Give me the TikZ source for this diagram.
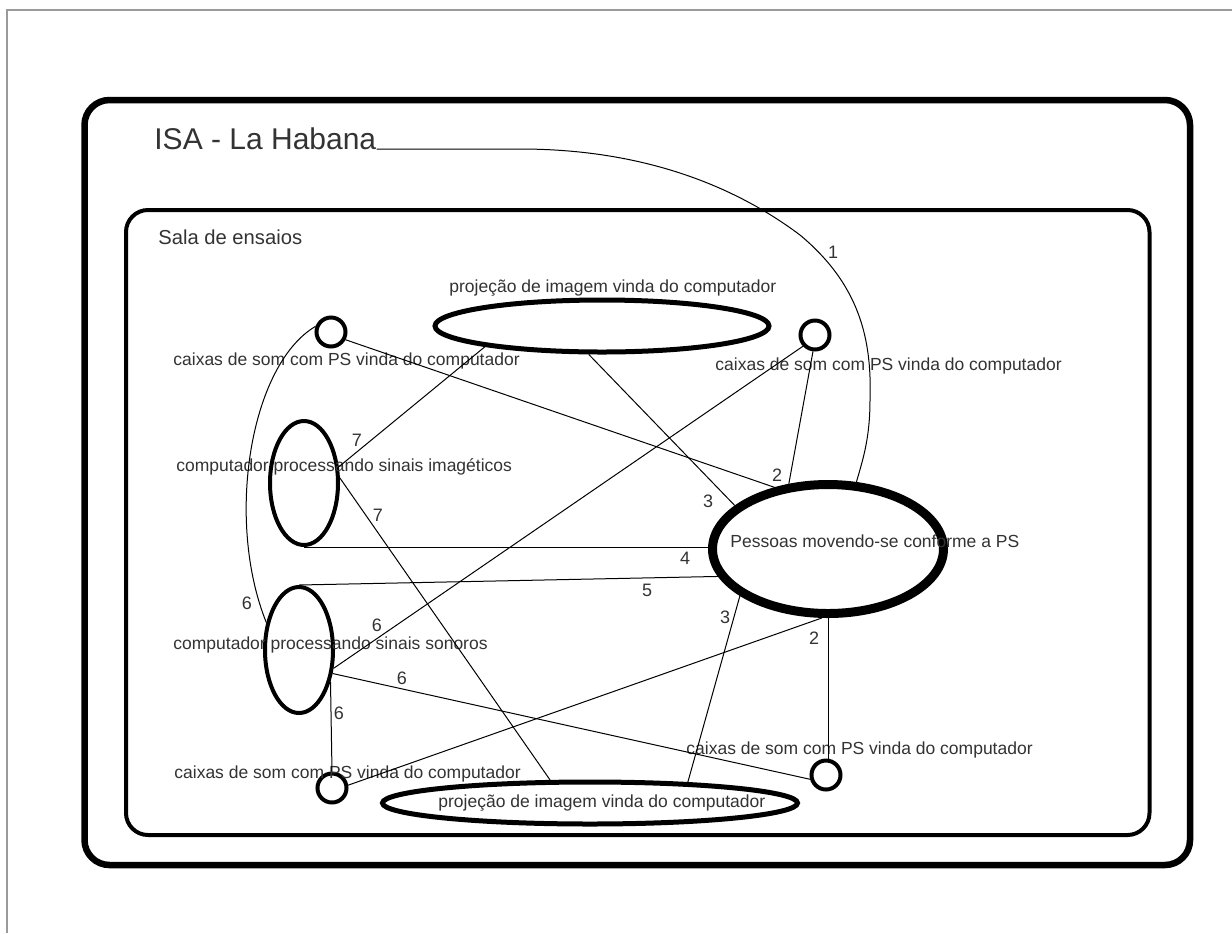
\documentclass[tikz,border=0pt]{standalone}
\usepackage{fontspec}
\setmainfont{Liberation Sans}
\usetikzlibrary{shapes.geometric}
\definecolor{ink}{HTML}{333333}
\definecolor{edgegray}{HTML}{9A9A9A}

\begin{document}
\begin{tikzpicture}[x=0.5pt,y=-0.5pt,
  room/.style={draw, rectangle, inner sep=0},
  speaker/.style={draw, circle, line width=2pt, minimum size=14.5pt, inner sep=0},
  pc/.style={draw, ellipse, line width=2pt, minimum width=34pt, minimum height=62pt, inner sep=0},
  proj/.style={draw, ellipse, line width=2.5pt, inner sep=0},
  people/.style={draw, ellipse, line width=4.5pt, minimum width=115.5pt, minimum height=64.5pt, inner sep=0},
  lbl/.style={text=ink, font=\fontsize{8.75}{10}\selectfont, inner sep=0, anchor=base west},
  num/.style={text=ink, font=\fontsize{9}{10}\selectfont, inner sep=0},
  link/.style={line width=0.5pt}]

\useasboundingbox (0,0) rectangle (1232,933);
\fill[white] (0,0) rectangle (1232,933);
% sunken frame lines
\draw[edgegray, line width=1pt] (7,933) -- (7,9.5) -- (1232,9.5);

% containers
\node[room, line width=3.25pt, rounded corners=12.5pt,
      minimum width=552.75pt, minimum height=382.5pt] (isa) at (637.25,482.5) {};
\node[room, line width=2pt, rounded corners=11pt,
      minimum width=511.75pt, minimum height=312.5pt] (sala) at (637.75,522.5) {};

\node[anchor=base west, inner sep=0, text=ink, font=\fontsize{15}{18}\selectfont] (title) at (154,149) {ISA - La Habana};
\node[anchor=base west, inner sep=0, text=ink, font=\fontsize{10.1}{12}\selectfont] (salatxt) at (158,244) {Sala de ensaios};

% elements
\node[speaker] (tl) at (331,332) {};
\node[speaker] (tr) at (815,335) {};
\node[speaker] (bl) at (332,788) {};
\node[speaker] (br) at (826,775) {};
\node[pc] (img) at (304,483) {};
\node[pc, minimum height=63pt] (son) at (299,650) {};
\node[proj, minimum width=167pt, minimum height=26pt] (ptop) at (602,326) {};
\node[proj, minimum width=207.5pt, minimum height=21pt] (pbot) at (590,803) {};
\node[people] (ppl) at (828,549) {};

% element texts
\node[lbl] (tltxt) at (173,365) {caixas de som com PS vinda do computador};
\node[lbl] (trtxt) at (715,370) {caixas de som com PS vinda do computador};
\node[lbl] (bltxt) at (174,778) {caixas de som com PS vinda do computador};
\node[lbl] (brtxt) at (686,754) {caixas de som com PS vinda do computador};
\node[lbl] (imgtxt) at (176,471) {computador processando sinais imagéticos};
\node[lbl] (sontxt) at (173,649) {computador processando sinais sonoros};
\node[lbl] (ptoptxt) at (449,292) {projeção de imagem vinda do computador};
\node[lbl] (pbottxt) at (438,807) {projeção de imagem vinda do computador};
\node[lbl] (ppltxt) at (730,547) {Pessoas movendo-se conforme a PS};

% connectors
\draw[link] (title.base east) -- (520,149)
  .. controls (650,149) and (740,190) .. (800,235)
  .. controls (860,285) and (872,340) .. (870,400)
  .. controls (870,440) and (862,462) .. (ppl.67);
\draw[link] (tl.-28) -- (ppl.131);
\draw[link] (tr.-97) -- (ppl.121);
\draw[link] (ptop.-115) -- (ppl.155);
\draw[link] (ptop.-170.6) -- (img.25);
\draw[link] (img.8) -- (pbot.150);
\draw[link] (img.south) -- (img.south -| ppl.west);
\draw[link] (son.north) -- (ppl.194);
\draw[link] (tl.160) .. controls (250,365) and (225,520) .. (son.140);
\draw[link] (tr.-137.5) -- (son.-28);
\draw[link] (son.-45) -- (bl.north);
\draw[link] (son.-35) -- (br.-165);
\draw[link] (bl.10) -- (ppl.-95);
\draw[link] (ppl.south) -- (ppl.south |- br.north);
\draw[link] (ppl.-152) -- (pbot.12);

% connector numbers
\node[num] (n1) at (833,252) {1};
\node[num] (n2a) at (777,475) {2};
\node[num] (n3a) at (708,501) {3};
\node[num] (n4) at (685,558) {4};
\node[num] (n5) at (647,590) {5};
\node[num] (n3b) at (725,617) {3};
\node[num] (n2b) at (814,638) {2};
\node[num] (n7a) at (357,440) {7};
\node[num] (n7b) at (378,515) {7};
\node[num] (n6a) at (247,603) {6};
\node[num] (n6b) at (377,625) {6};
\node[num] (n6c) at (402,678) {6};
\node[num] (n6d) at (339,713) {6};
\end{tikzpicture}
\end{document}
